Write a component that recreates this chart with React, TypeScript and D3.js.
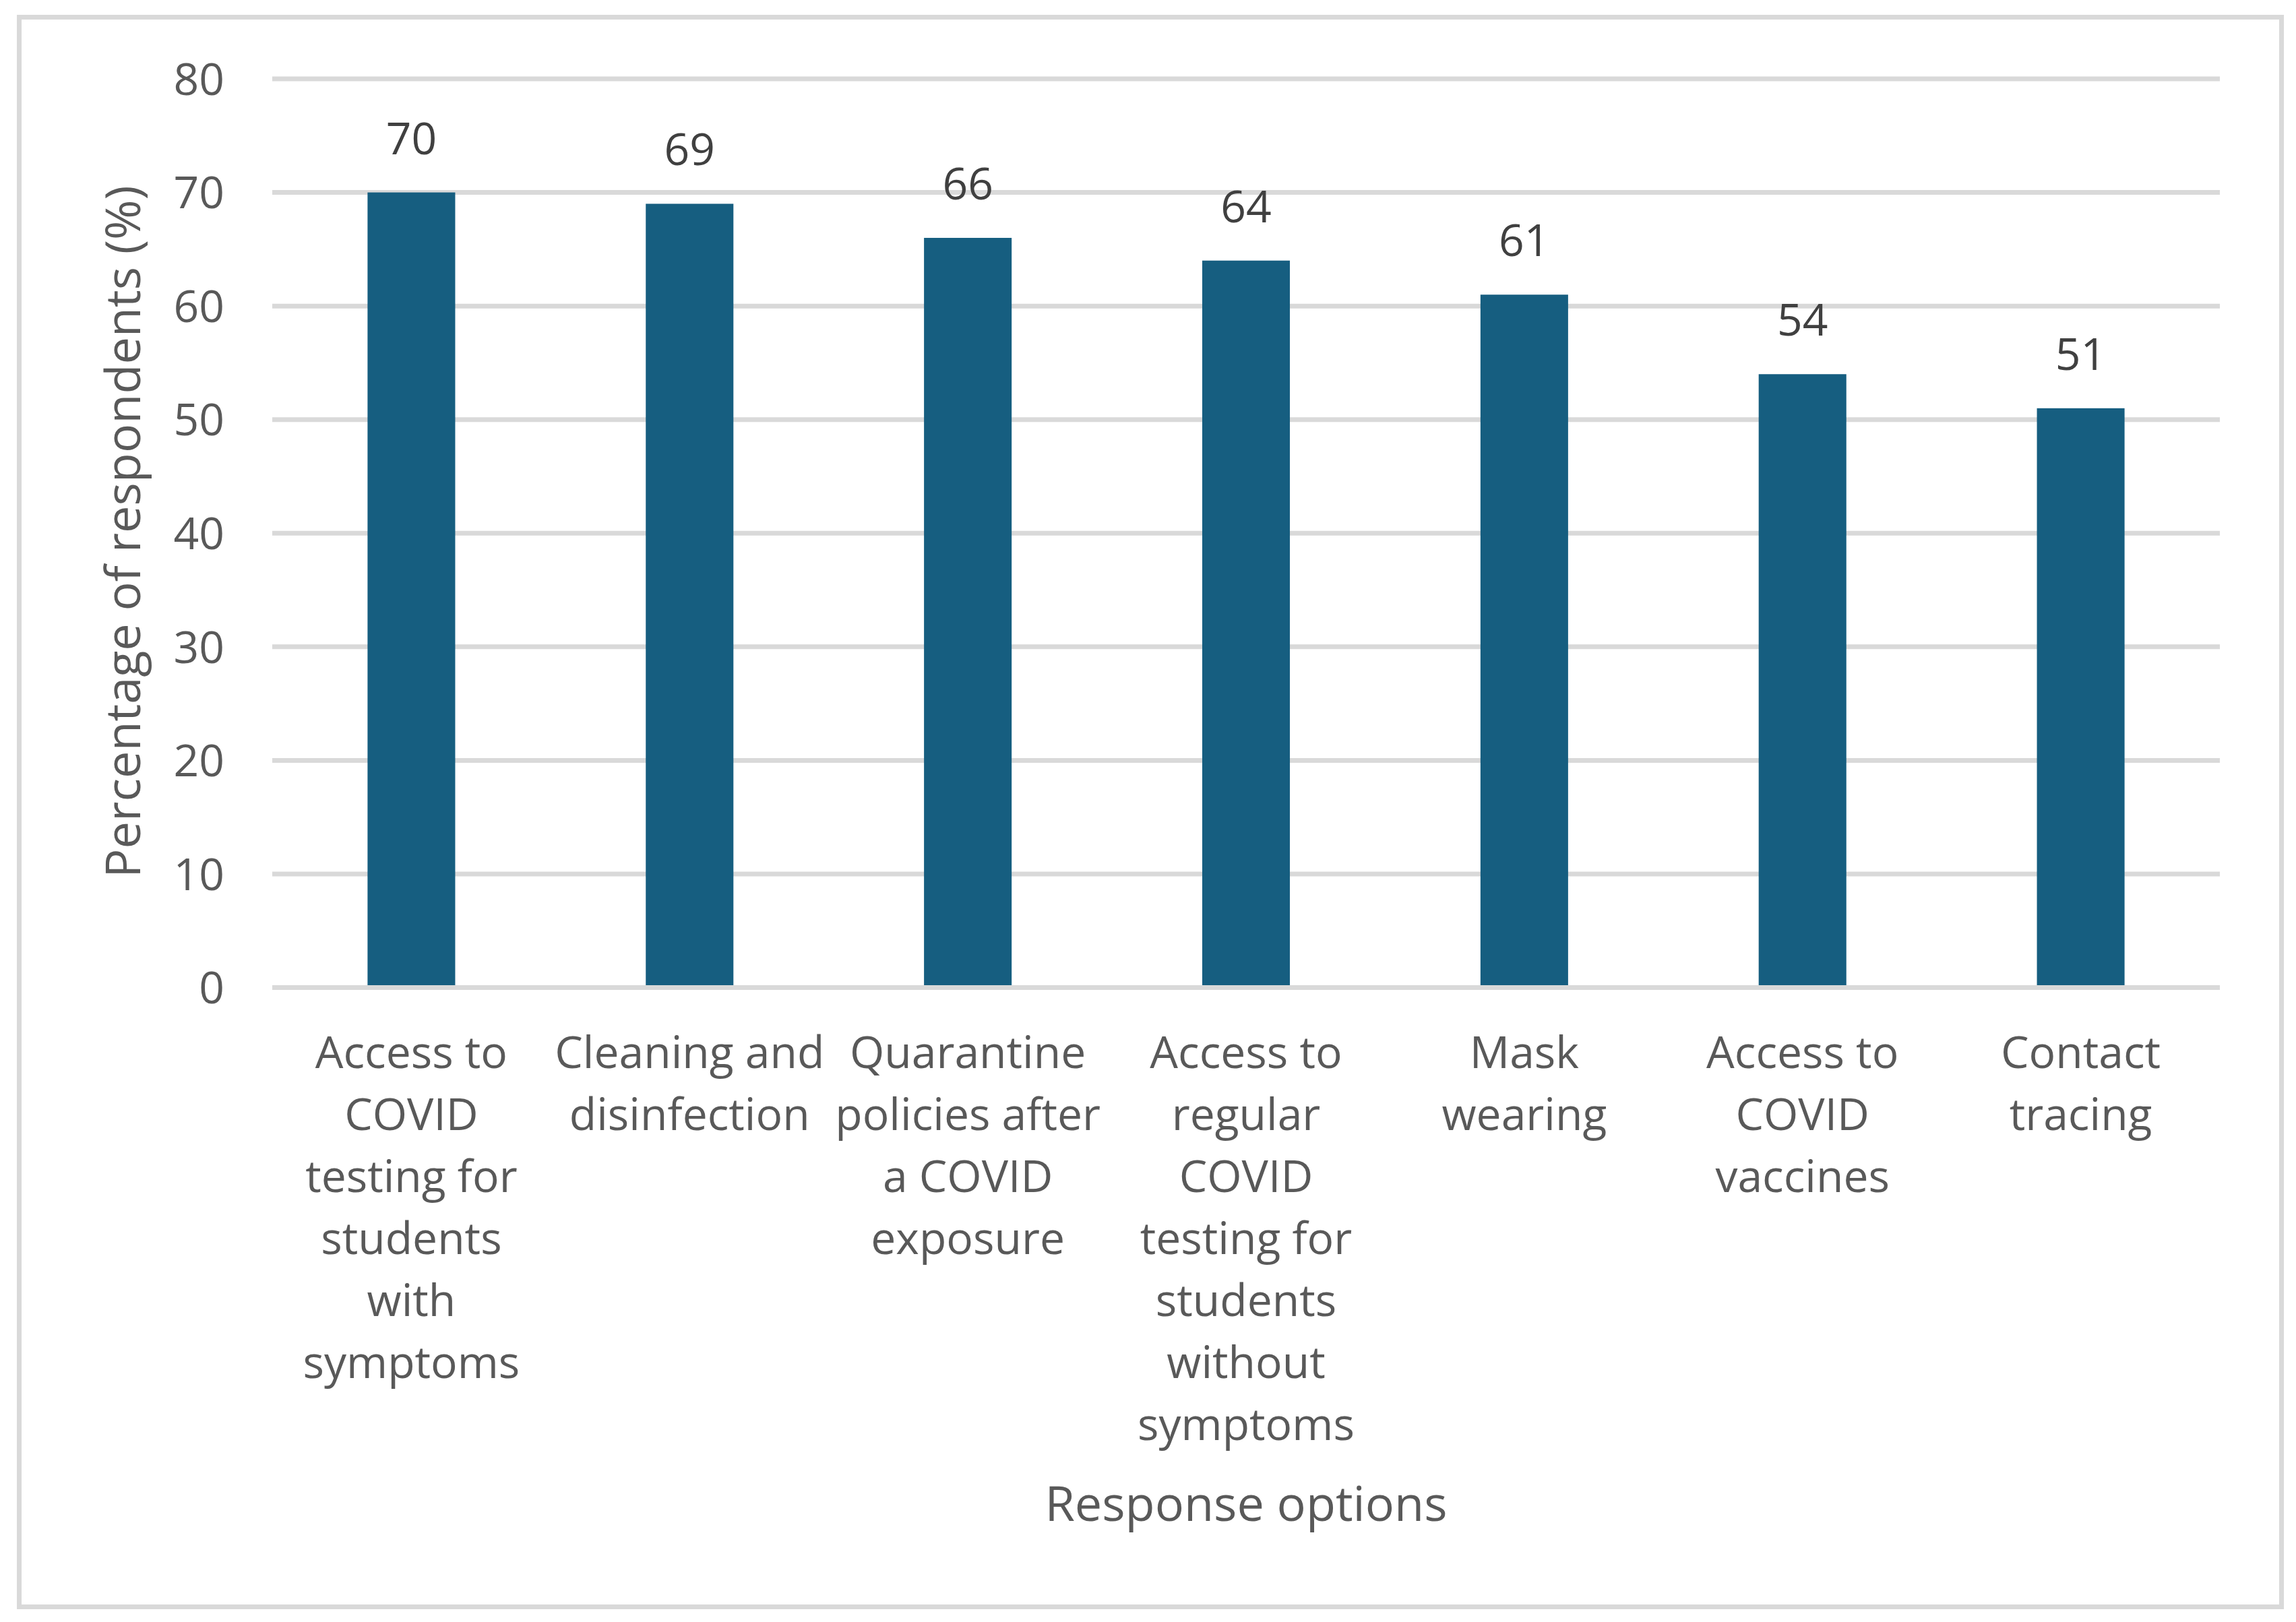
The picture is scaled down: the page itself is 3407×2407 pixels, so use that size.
import * as d3 from "d3";
import { useEffect, useRef } from "react";

// Chart data
const categories = [
	"Access to COVID testing for students with symptoms",
	"Cleaning and disinfection",
	"Quarantine policies after a COVID exposure",
	"Access to regular COVID testing for students without symptoms",
	"Mask wearing",
	"Access to COVID vaccines",
	"Contact tracing",
];

// Line breaks of each category label, as in the figure
const categoryLines = [
	["Access to", "COVID", "testing for", "students", "with", "symptoms"],
	["Cleaning and", "disinfection"],
	["Quarantine", "policies after", "a COVID", "exposure"],
	["Access to", "regular", "COVID", "testing for", "students", "without", "symptoms"],
	["Mask", "wearing"],
	["Access to", "COVID", "vaccines"],
	["Contact", "tracing"],
];

const percentages = [70, 69, 66, 64, 61, 54, 51];

const yTicks = [0, 10, 20, 30, 40, 50, 60, 70, 80];

const yTitle = "Percentage of respondents (%)";
const xTitle = "Response options";

const BarChart = () => {
	const svgRef = useRef<SVGSVGElement>(null);

	useEffect(() => {
		if (!svgRef.current) return;

		document.body.style.margin = "0";

		const width = 3407;
		const height = 2407;
		const font = "'Open Sans', 'Noto Sans', sans-serif";

		const svg = d3
			.select(svgRef.current)
			.attr("width", width)
			.attr("height", height)
			.style("background-color", "#FFFFFF")
			.style("display", "block");

		svg.selectAll("*").remove();

		// Outer frame
		svg
			.append("rect")
			.attr("x", 28.5)
			.attr("y", 25.5)
			.attr("width", 3357)
			.attr("height", 2359)
			.attr("fill", "#FFFFFF")
			.attr("stroke", "#D9D9D9")
			.attr("stroke-width", 7);

		const plot = { left: 404, right: 3294, top: 117, bottom: 1465.5 };

		const xScale = d3
			.scaleBand<string>()
			.domain(categories)
			.range([plot.left, plot.right])
			.paddingInner(0.685)
			.paddingOuter(0.3425);

		const yScale = d3
			.scaleLinear()
			.domain([0, 80])
			.range([plot.bottom, plot.top]);

		// Gridlines
		svg
			.append("g")
			.selectAll("line")
			.data(yTicks)
			.enter()
			.append("line")
			.attr("x1", plot.left)
			.attr("x2", plot.right)
			.attr("y1", (d) => yScale(d))
			.attr("y2", (d) => yScale(d))
			.attr("stroke", "#D9D9D9")
			.attr("stroke-width", 7);

		// Y tick labels
		svg
			.append("g")
			.selectAll("text")
			.data(yTicks)
			.enter()
			.append("text")
			.attr("x", 333)
			.attr("y", (d) => yScale(d))
			.attr("dy", "0.36em")
			.attr("text-anchor", "end")
			.style("font-family", font)
			.style("font-size", "66px")
			.style("fill", "#595959")
			.text((d) => d);

		// Bars
		svg
			.append("g")
			.selectAll("rect")
			.data(percentages)
			.enter()
			.append("rect")
			.attr("x", (_, i) => xScale(categories[i]) ?? 0)
			.attr("y", (d) => yScale(d))
			.attr("width", xScale.bandwidth())
			.attr("height", (d) => plot.bottom - 3.5 - yScale(d))
			.attr("fill", "#165E80");

		// Value labels above bars
		svg
			.append("g")
			.selectAll("text")
			.data(percentages)
			.enter()
			.append("text")
			.attr("x", (_, i) => (xScale(categories[i]) ?? 0) + xScale.bandwidth() / 2)
			.attr("y", (d) => yScale(d) - 57)
			.attr("text-anchor", "middle")
			.style("font-family", font)
			.style("font-size", "66px")
			.style("fill", "#404040")
			.text((d) => d);

		// Category labels, wrapped
		const catGroups = svg
			.append("g")
			.selectAll("text")
			.data(categories)
			.enter()
			.append("text")
			.attr("text-anchor", "middle")
			.style("font-family", font)
			.style("font-size", "66px")
			.style("fill", "#595959");

		catGroups.each(function (d, i) {
			const cx = (xScale(d) ?? 0) + xScale.bandwidth() / 2;
			categoryLines[i].forEach((line, j) => {
				d3.select(this)
					.append("tspan")
					.attr("x", cx)
					.attr("y", 1585 + j * 92)
					.text(line);
			});
		});

		// Axis titles
		svg
			.append("text")
			.attr("transform", `translate(208, 789) rotate(-90)`)
			.attr("text-anchor", "middle")
			.style("font-family", font)
			.style("font-size", "72px")
			.style("fill", "#595959")
			.text(yTitle);

		svg
			.append("text")
			.attr("x", (plot.left + plot.right) / 2)
			.attr("y", 2257)
			.attr("text-anchor", "middle")
			.style("font-family", font)
			.style("font-size", "72px")
			.style("fill", "#595959")
			.text(xTitle);
	}, []);

	return <svg ref={svgRef}></svg>;
};

export default function App() {
	return <BarChart />;
}
